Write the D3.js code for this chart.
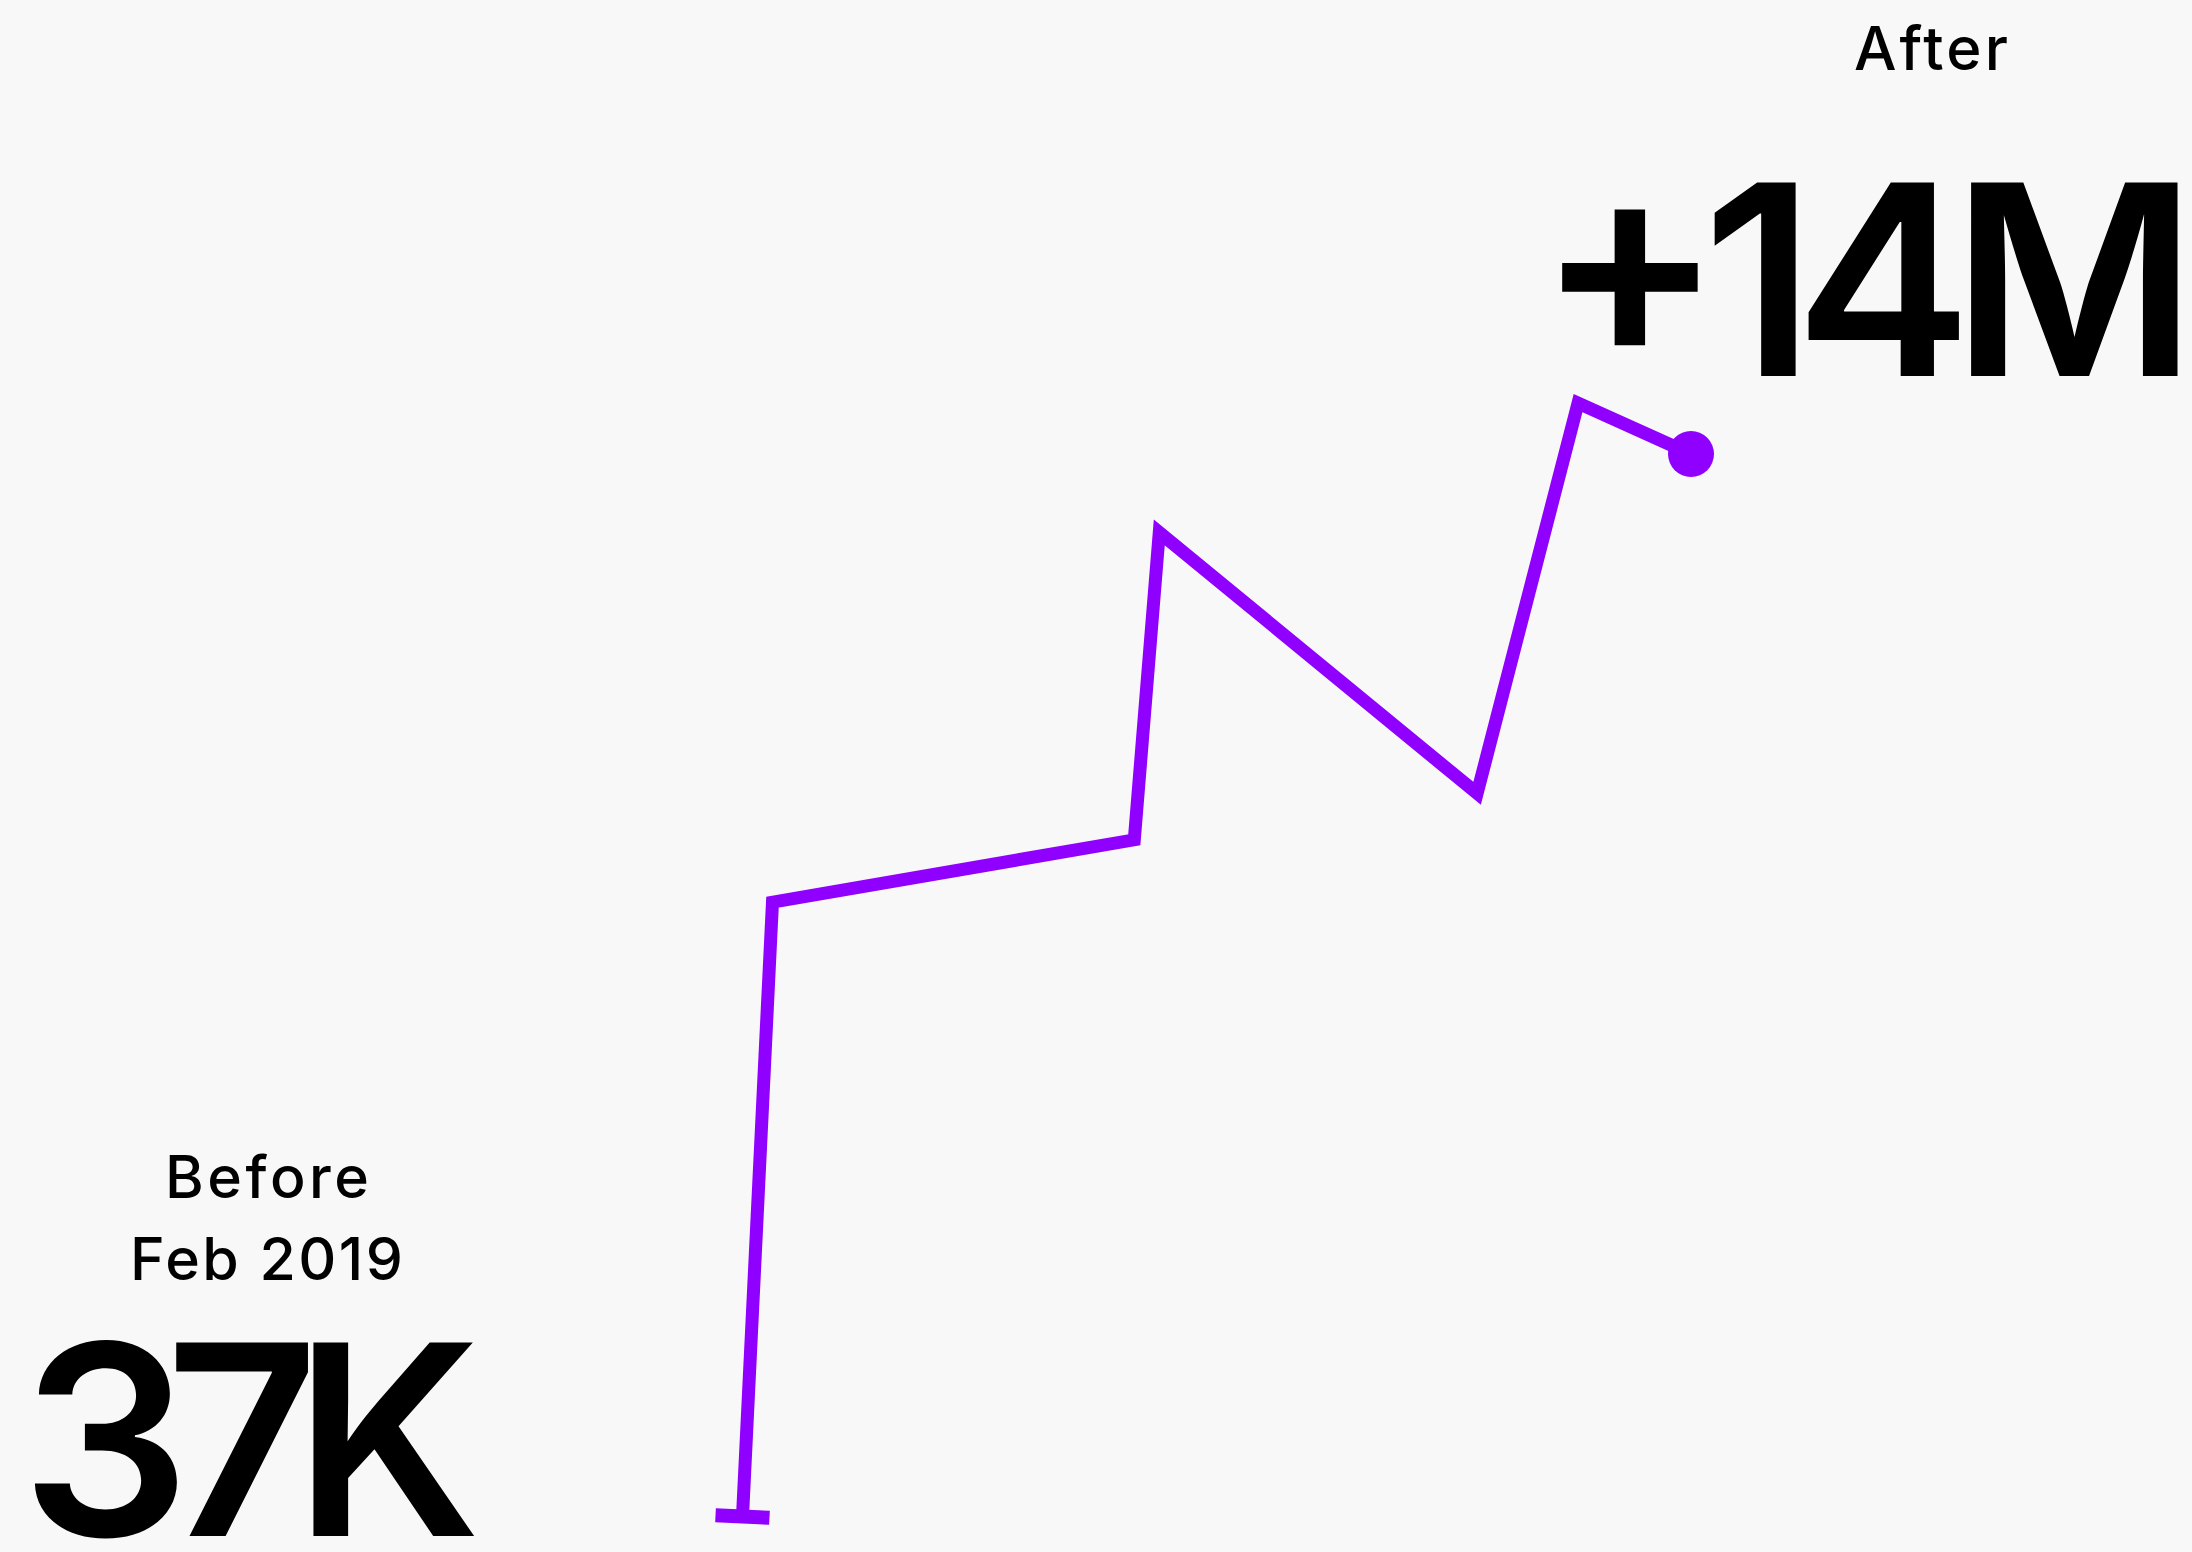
<!DOCTYPE html>
<html>
<head>
<meta charset="utf-8">
<script src="https://cdn.jsdelivr.net/npm/d3@7"></script>
<style>
  html, body { margin: 0; padding: 0; background: #f8f8f8; }
  svg { display: block; }
  text { font-family: Inter, "Noto Sans", sans-serif; fill: #000; }
</style>
</head>
<body>
<script>
// Snapshots of the total, from the first record to the latest one
const dates = ["2019-02-01", "2019-03-03", "2020-02-28", "2020-03-24", "2021-02-05", "2021-05-17", "2021-09-07"];
const values = [37000, 8110000, 8930000, 12970000, 9540000, 14670000, 14000000];

// Headline captions
const startCaption = ["Before", "Feb 2019"];
const endCaption = ["After"];

const W = 2192, H = 1552;
const accent = "#8f00ff";

const data = dates.map((d, i) => ({ date: d3.utcParse("%Y-%m-%d")(d), value: values[i] }));

const svg = d3.select("body").append("svg")
  .attr("width", W).attr("height", H);

svg.append("rect").attr("width", W).attr("height", H).attr("fill", "#f8f8f8");

const x = d3.scaleUtc()
  .domain(d3.extent(data, d => d.date))
  .range([742.5, 1691]);

const y = d3.scaleLinear()
  .domain([values[0], values[values.length - 1]])
  .range([1516.5, 454]);

const line = d3.line()
  .x(d => x(d.date))
  .y(d => y(d.value))
  .curve(d3.curveLinear);

svg.append("path")
  .datum(data)
  .attr("fill", "none")
  .attr("stroke", accent)
  .attr("stroke-width", 13)
  .attr("stroke-linejoin", "miter")
  .attr("stroke-miterlimit", 10)
  .attr("d", line);

// Flat end cap at the first point, perpendicular to the first segment
const p0 = [x(data[0].date), y(data[0].value)];
const p1 = [x(data[1].date), y(data[1].value)];
const len = Math.hypot(p1[0] - p0[0], p1[1] - p0[1]);
const nx = -(p1[1] - p0[1]) / len, ny = (p1[0] - p0[0]) / len;
const capHalf = 27;
svg.append("line")
  .attr("x1", p0[0] - nx * capHalf).attr("y1", p0[1] - ny * capHalf)
  .attr("x2", p0[0] + nx * capHalf).attr("y2", p0[1] + ny * capHalf)
  .attr("stroke", accent)
  .attr("stroke-width", 14);

// Dot at the latest point
const last = data[data.length - 1];
svg.append("circle")
  .attr("cx", x(last.date))
  .attr("cy", y(last.value))
  .attr("r", 23)
  .attr("fill", accent);

const fmt = v => d3.format("~s")(v).replace("k", "K");

// Spread a label's letters so its glyphs span the given width
function spread(sel, width) {
  const n = sel.text().length;
  const w = sel.node().getComputedTextLength();
  sel.attr("letter-spacing", (width - w) / (n - 1));
  return sel;
}

// Start captions
spread(svg.append("text")
  .attr("x", 165).attr("y", 1198)
  .attr("font-size", 59).attr("font-weight", 500)
  .text(startCaption[0]), 204);

spread(svg.append("text")
  .attr("x", 130).attr("y", 1280)
  .attr("font-size", 59).attr("font-weight", 500)
  .text(startCaption[1]), 273);

spread(svg.append("text")
  .attr("x", 21).attr("y", 1536)
  .attr("font-size", 266).attr("font-weight", 600)
  .text(fmt(values[0])), 460);

// End captions
spread(svg.append("text")
  .attr("x", 1854).attr("y", 70)
  .attr("font-size", 60).attr("font-weight", 500)
  .text(endCaption[0]), 154);

// "+14M": the sign sits a little higher and larger than the digits
const endNum = svg.append("text")
  .attr("x", 1537).attr("y", 376)
  .attr("font-size", 266).attr("font-weight", 600);
endNum.append("tspan")
  .attr("font-size", 276)
  .attr("dy", -19)
  .text("+");
endNum.append("tspan")
  .attr("dy", 19)
  .text(fmt(values[values.length - 1]));
spread(endNum, 660);
</script>
</body>
</html>
